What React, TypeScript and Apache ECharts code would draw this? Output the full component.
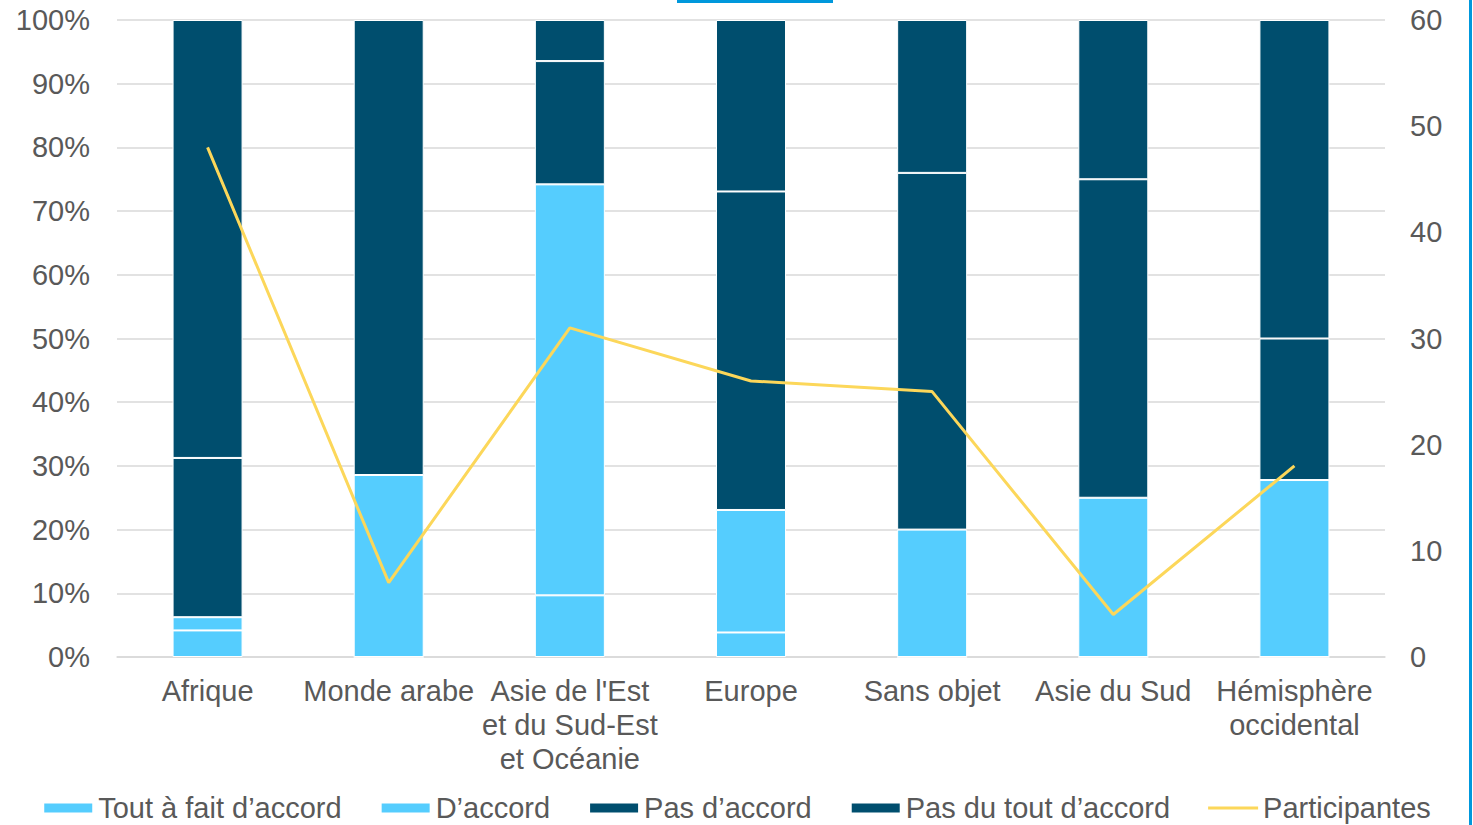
import React, { useEffect, useRef } from "react";
import * as echarts from "echarts";

const categories = [
  "Afrique",
  "Monde arabe",
  "Asie de l'Est\net du Sud-Est\net Océanie",
  "Europe",
  "Sans objet",
  "Asie du Sud",
  "Hémisphère\noccidental",
];
const toutAFait = [4.17, 0, 9.68, 3.85, 0, 0, 0];
const dAccord = [2.08, 28.57, 64.52, 19.23, 20, 25, 27.78];
const pasDAccord = [25, 0, 19.35, 50, 56, 50, 22.22];
const pasDuTout = [68.75, 71.43, 6.45, 26.92, 24, 25, 50];
const participantes = [48, 7, 31, 26, 25, 4, 18];

const LIGHT = "#55CDFE";
const DARK = "#004E6E";
const YELLOW = "#FCD75A";
const TEXT = "#595959";
const FONT = "Liberation Sans, Arial, sans-serif";
const FS = 29;

export default function App() {
  const ref = useRef<HTMLDivElement>(null);
  useEffect(() => {
    if (!ref.current) return;
    const chart = echarts.init(ref.current, null, { renderer: "svg" });
    const barItem = (color: string) => ({
      color,
      borderColor: "#ffffff",
      borderWidth: 1,
    });
    const bar = (name: string, data: number[], color: string) => ({
      name,
      type: "bar",
      stack: "total",
      data,
      barWidth: 70,
      itemStyle: barItem(color),
      yAxisIndex: 0,
    });
    chart.setOption({
      animation: false,
      backgroundColor: "#ffffff",
      textStyle: { fontFamily: FONT },
      grid: { left: 117, right: 88, top: 20, bottom: 168 },
      legend: {
        top: 793,
        left: "center",
        padding: 0,
        itemWidth: 50,
        itemHeight: 11,
        itemGap: 38,
        textStyle: { color: TEXT, fontSize: FS, lineHeight: 30, fontFamily: FONT },
        data: [
          { name: "Tout à fait d’accord", icon: "rect" },
          { name: "D’accord", icon: "rect" },
          { name: "Pas d’accord", icon: "rect" },
          { name: "Pas du tout d’accord", icon: "rect" },
          { name: "Participantes", icon: "path://M0,0 H50 V3 H0 Z" },
        ],
      },
      xAxis: {
        type: "category",
        data: categories,
        axisTick: { show: false },
        axisLine: { lineStyle: { color: "#d9d9d9", width: 1.5 } },
        axisLabel: {
          color: TEXT,
          fontSize: FS,
          lineHeight: 34,
          margin: 17,
          interval: 0,
          fontFamily: FONT,
        },
      },
      yAxis: [
        {
          type: "value",
          min: 0,
          max: 100,
          interval: 10,
          axisLabel: {
            formatter: "{value}%",
            color: TEXT,
            fontSize: FS,
            margin: 27,
            fontFamily: FONT,
          },
          splitLine: { lineStyle: { color: "#d9d9d9", width: 1.5 } },
          axisLine: { show: false },
          axisTick: { show: false },
        },
        {
          type: "value",
          min: 0,
          max: 60,
          interval: 10,
          axisLabel: {
            color: TEXT,
            fontSize: FS,
            margin: 25,
            fontFamily: FONT,
          },
          splitLine: { show: false },
          axisLine: { show: false },
          axisTick: { show: false },
        },
      ],
      series: [
        bar("Tout à fait d’accord", toutAFait, LIGHT),
        bar("D’accord", dAccord, LIGHT),
        bar("Pas d’accord", pasDAccord, DARK),
        bar("Pas du tout d’accord", pasDuTout, DARK),
        {
          name: "Participantes",
          type: "line",
          yAxisIndex: 1,
          data: participantes,
          symbol: "none",
          lineStyle: { color: YELLOW, width: 3 },
          itemStyle: { color: YELLOW },
        },
      ],
      graphic: [
        {
          type: "rect",
          shape: { x: 677, y: 0, width: 156, height: 3 },
          style: { fill: "#0098DC" },
          silent: true,
        },
        {
          type: "rect",
          shape: { x: 1469, y: 0, width: 3, height: 825 },
          style: { fill: "#0098DC" },
          silent: true,
        },
      ],
    });
    return () => chart.dispose();
  }, []);
  return (
    <div
      ref={ref}
      style={{ position: "absolute", left: 0, top: 0, width: 1473, height: 825 }}
    />
  );
}
